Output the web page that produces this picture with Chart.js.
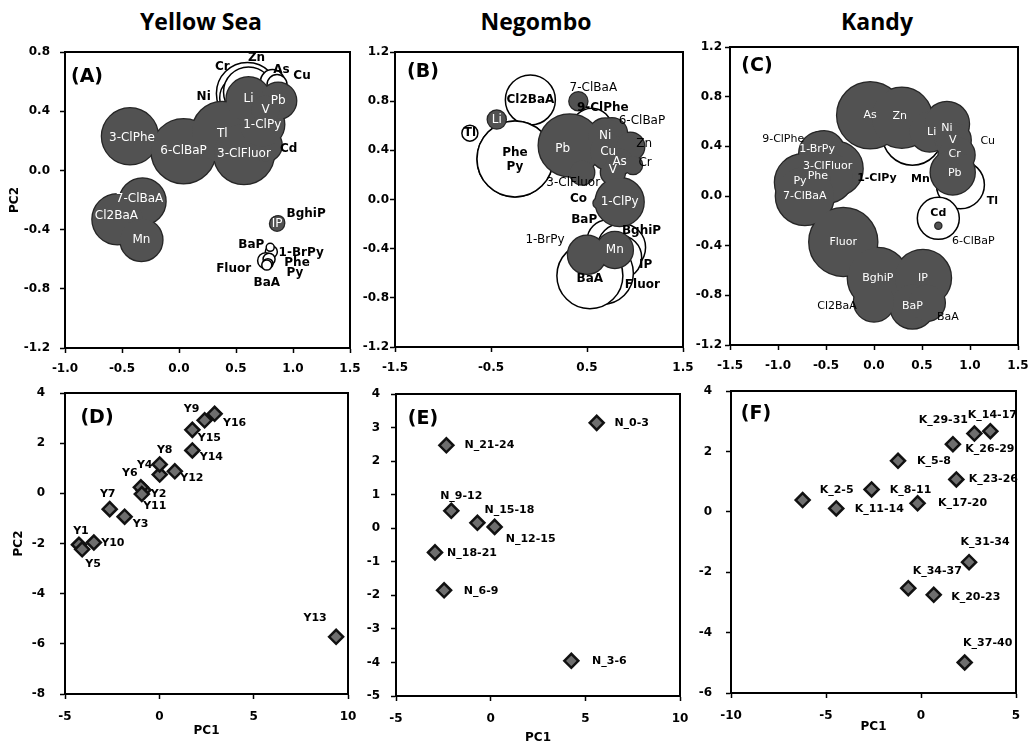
<!DOCTYPE html>
<html><head><meta charset="utf-8">
<script src="https://cdn.jsdelivr.net/npm/chart.js@4.4.1/dist/chart.umd.min.js"></script>
<style>
html,body{margin:0;padding:0;background:#fff;}
body{width:1030px;height:754px;position:relative;overflow:hidden;}
canvas{position:absolute;}
.ttl{position:absolute;top:5px;transform:translateX(-50%);font-family:'Open Sans',sans-serif;font-weight:bold;font-size:23px;white-space:nowrap;color:#000;}
</style></head><body>
<div class="ttl" style="left:201px">Yellow Sea</div>
<div class="ttl" style="left:536px">Negombo</div>
<div class="ttl" style="left:877px">Kandy</div>
<canvas id="cA" width="372" height="351" style="left:4px;top:27px"></canvas>
<canvas id="cB" width="360" height="350" style="left:349px;top:27px"></canvas>
<canvas id="cC" width="360" height="353" style="left:684px;top:22px"></canvas>
<canvas id="cD" width="366" height="374" style="left:8px;top:368px"></canvas>
<canvas id="cE" width="356" height="380" style="left:350px;top:369px"></canvas>
<canvas id="cF" width="357" height="372" style="left:685px;top:366px"></canvas>
<script>
// ===== DATA =====
// (A) Yellow Sea loadings
const A_names = ['3-ClPhe','6-ClBaP','Tl','3-ClFluor','Cd','1-ClPy','Li','Pb','V','7-ClBaA','Cl2BaA','Mn','IP','BghiP','Cr','Ni','Zn','As','Cu','BaP','1-BrPy','Fluor','Phe','Py','BaA'];
const A_pc1 = [-0.43,0.04,0.38,0.57,0.76,0.73,0.61,0.87,0.76,-0.32,-0.54,-0.33,0.86,0.87,0.60,0.55,0.61,0.82,0.86,0.81,0.80,0.76,0.79,0.78,0.77];
const A_pc2 = [0.23,0.13,0.26,0.11,0.17,0.31,0.48,0.47,0.41,-0.21,-0.33,-0.47,-0.36,-0.35,0.52,0.49,0.53,0.60,0.58,-0.55,-0.52,-0.61,-0.60,-0.63,-0.64];
const A_mag = [0.28,0.32,0.30,0.30,0.16,0.22,0.22,0.18,0.14,0.23,0.25,0.21,0.07,0.06,0.31,0.22,0.25,0.12,0.10,0.06,0.04,0.08,0.06,0.05,0.05];
const A_type = ['d','d','d','d','d','d','d','d','d','d','d','d','d','d','w','w','w','w','w','w','w','w','w','w','w'];
const A_xticks = [-1.0,-0.5,0.0,0.5,1.0,1.5];
const A_yticks = [-1.2,-0.8,-0.4,0.0,0.4,0.8];

// (B) Negombo loadings
const B_names = ['Li','7-ClBaA','Pb','6-ClBaP','Ni','Cu','Zn','As','Cr','V','3-ClFluor','1-ClPy','Co','Mn','1-BrPy','Tl','Cl2BaA','Phe','Py','9-ClPhe','BaP','BghiP','IP','Fluor','BaA'];
const B_pc1 = [-0.44,0.41,0.32,0.76,0.69,0.72,0.95,0.84,0.98,0.77,0.45,0.84,0.62,0.79,0.50,-0.72,-0.09,-0.25,-0.25,0.55,0.71,0.86,0.84,0.66,0.53];
const B_pc2 = [0.65,0.80,0.44,0.54,0.52,0.39,0.43,0.31,0.28,0.22,0.22,-0.02,-0.03,-0.41,-0.45,0.54,0.81,0.33,0.33,0.58,-0.33,-0.39,-0.47,-0.60,-0.62];
const B_mag = [0.09,0.09,0.31,0.15,0.17,0.18,0.14,0.13,0.09,0.12,0.12,0.24,0.05,0.18,0.19,0.08,0.25,0.38,0.38,0.20,0.20,0.24,0.22,0.31,0.33];
const B_type = ['d','d','d','d','d','d','d','d','d','d','d','d','d','d','d','w','w','w','w','w','w','w','w','w','w'];
const B_xticks = [-1.5,-0.5,0.5,1.5];
const B_yticks = [-1.2,-0.8,-0.4,0.0,0.4,0.8,1.2];

// (C) Kandy loadings
const C_names = ['As','Zn','Li','Ni','Cu','V','Cr','Pb','9-ClPhe','1-BrPy','3-ClFluor','Phe','Py','7-ClBaA','Fluor','BghiP','IP','BaP','Cl2BaA','BaA','6-ClBaP','Mn','1-ClPy','Tl','Cd'];
const C_pc1 = [-0.04,0.29,0.58,0.76,0.82,0.82,0.86,0.82,-0.55,-0.52,-0.40,-0.48,-0.74,-0.72,-0.32,0.04,0.51,0.40,0.00,0.55,0.67,0.40,0.03,0.90,0.67];
const C_pc2 = [0.65,0.63,0.52,0.58,0.45,0.44,0.33,0.19,0.34,0.36,0.22,0.15,0.11,0.00,-0.37,-0.66,-0.66,-0.89,-0.85,-0.86,-0.24,0.49,0.14,0.09,-0.18];
const C_mag = [0.33,0.30,0.20,0.22,0.18,0.16,0.18,0.22,0.22,0.20,0.27,0.25,0.28,0.29,0.34,0.30,0.28,0.22,0.20,0.18,0.03,0.30,0.00,0.24,0.21];
const C_type = ['d','d','d','d','d','d','d','d','d','d','d','d','d','d','d','d','d','d','d','d','d','w','w','w','w'];
const C_xticks = [-1.5,-1.0,-0.5,0.0,0.5,1.0,1.5];
const C_yticks = [-1.2,-0.8,-0.4,0.0,0.4,0.8,1.2];

// (D) Yellow Sea scores
const D_names = ['Y1','Y2','Y3','Y4','Y5','Y6','Y7','Y8','Y9','Y10','Y11','Y12','Y13','Y14','Y15','Y16'];
const D_pc1 = [-4.26,-0.84,-1.84,0.02,-4.09,-0.98,-2.63,0.02,2.40,-3.47,-0.93,0.82,9.37,1.75,1.75,2.93];
const D_pc2 = [-2.05,0.13,-0.93,0.75,-2.23,0.24,-0.63,1.15,2.91,-1.96,-0.03,0.88,-5.72,1.71,2.53,3.17];
const D_xticks = [-5,0,5,10];
const D_yticks = [-8,-6,-4,-2,0,2,4];

// (E) Negombo scores
const E_names = ['N_0-3','N_3-6','N_6-9','N_9-12','N_12-15','N_15-18','N_18-21','N_21-24'];
const E_pc1 = [5.60,4.26,-2.46,-2.08,0.21,-0.70,-2.94,-2.34];
const E_pc2 = [3.14,-3.95,-1.85,0.52,0.04,0.16,-0.72,2.47];
const E_xticks = [-5,0,5,10];
const E_yticks = [-5,-4,-3,-2,-1,0,1,2,3,4];

// (F) Kandy scores
const F_names = ['K_2-5','K_5-8','K_8-11','K_11-14','K_14-17','K_17-20','K_20-23','K_23-26','K_26-29','K_29-31','K_31-34','K_34-37','K_37-40'];
const F_pc1 = [-6.23,-1.21,-2.60,-4.46,3.65,-0.18,0.67,1.86,1.68,2.81,2.53,-0.67,2.30];
const F_pc2 = [0.39,1.69,0.74,0.11,2.67,0.28,-2.75,1.07,2.24,2.59,-1.67,-2.53,-4.99];
const F_xticks = [-10,-5,0,5];
const F_yticks = [-6,-4,-2,0,2,4];

// ===== LAYOUT / STYLE =====
const FAM = "'DejaVu Sans', sans-serif";
const R_SCALE = 100; // bubble radius px per magnitude unit

const A_lab = {'3-ClPhe':[2,2,'w'],'7-ClBaA':[-3,-3,'w'],'Cl2BaA':[-1,-3,'w'],'Tl':[0,2,'w'],'Cd':[23,4,'b'],'BghiP':[28,-8,'b'],'IP':[0,0,'w'],
  'Cr':[-25,-27,'b'],'Ni':[-38,-1,'b'],'Zn':[8,-34,'b'],'As':[9,-12,'b'],'Cu':[25,-9,'b'],'BaP':[-20,-7,'b'],'1-BrPy':[31,6,'b'],
  'Fluor':[-32,8,'b'],'Phe':[28,4,'b'],'Py':[27,9,'b'],'BaA':[0,18,'b']};
const B_lab = {'7-ClBaA':[15,-13,'n'],'6-ClBaP':[30,-12,'n'],'Zn':[14,-3,'n'],'Cr':[12,-2,'n'],'3-ClFluor':[-9,10,'n'],'Co':[-20,-4,'b'],
  '1-BrPy':[-42,-15,'n'],'Pb':[-7,3,'w'],'V':[0,-3,'w'],'Phe':[0,-6,'b'],'Py':[0,8,'b'],'9-ClPhe':[11,-20,'b'],'BaP':[-23,-20,'b'],
  'BghiP':[20,-17,'b'],'IP':[26,8,'b'],'Fluor':[40,12,'b'],'BaA':[0,3,'b'],'Tl':[0,0,'b'],'Cl2BaA':[0,0,'b']};
const C_lab = {'Cu':[35,1,'n'],'9-ClPhe':[-38,-15,'n'],'Cl2BaA':[-37,5,'n'],'BaA':[21,14,'n'],'6-ClBaP':[35,15,'n'],'Mn':[8,44,'b'],
  '1-ClPy':[0,0,'b'],'Tl':[32,16,'b'],'Cd':[0,-5,'b'],'1-BrPy':[-7,-2,'w'],'3-ClFluor':[-8,-3,'w'],'Phe':[-10,-1,'w'],'Py':[-3,-1,'w'],
  'Li':[2,1,'w'],'Ni':[0,4,'w'],'Zn':[-2,-2,'w'],'Cr':[-2,-1,'w'],'Pb':[2,1,'w'],'V':[0,-1,'w']};
const D_lab = {'Y1':[2,-14],'Y5':[11,15],'Y10':[19,1],'Y7':[-2,-15],'Y3':[16,7],'Y6':[-11,-14],'Y2':[15,4],'Y11':[13,12],'Y4':[-15,-9],
  'Y8':[5,-14],'Y12':[17,7],'Y14':[19,7],'Y15':[17,8],'Y9':[-13,-11],'Y16':[20,9],'Y13':[-21,-19]};
const E_lab = {'N_0-3':[35,0],'N_3-6':[38,0],'N_6-9':[37,1],'N_9-12':[10,-15],'N_12-15':[36,12],'N_15-18':[32,-13],'N_18-21':[37,1],'N_21-24':[43,0]};
const F_lab = {'K_2-5':[34,-10],'K_5-8':[36,0],'K_8-11':[39,1],'K_11-14':[43,1],'K_14-17':[2,-16],'K_17-20':[45,0],'K_20-23':[42,2],
  'K_23-26':[37,0],'K_26-29':[37,5],'K_29-31':[-31,-13],'K_31-34':[16,-20],'K_34-37':[29,-17],'K_37-40':[23,-19]};

// ===== PLUGINS =====
const framePlugin = {
  id:'frame',
  afterDraw(chart){
    const {ctx, chartArea:a} = chart;
    ctx.save(); ctx.strokeStyle='#000'; ctx.lineWidth=2;
    ctx.strokeRect(a.left, a.top, a.right-a.left, a.bottom-a.top);
    ctx.restore();
  }
};
const letterPlugin = {
  id:'panelLetter',
  afterDraw(chart, args, o){
    if(!o || !o.text) return;
    const {ctx, chartArea:a} = chart;
    ctx.save(); ctx.font = "bold 19px " + FAM; ctx.fillStyle='#000';
    ctx.textAlign='center'; ctx.textBaseline='middle';
    ctx.fillText(o.text, a.left+o.dx, a.top+o.dy);
    ctx.restore();
  }
};
const labelPlugin = {
  id:'ptLabels',
  afterDatasetsDraw(chart, args, o){
    const ctx = chart.ctx;
    const offs = (o && o.offsets) || {};
    const size = (o && o.size) || 11;
    ctx.save(); ctx.textAlign='center'; ctx.textBaseline='middle';
    chart.data.datasets.forEach((ds, di)=>{
      if(!ds.labelNames) return;
      const meta = chart.getDatasetMeta(di);
      meta.data.forEach((el, i)=>{
        const nm = ds.labelNames[i];
        const off = offs[nm] || [0,0];
        let st = off[2];
        if(!st) st = (ds.dark && off[0]===0 && off[1]===0) ? 'w' : 'b';
        ctx.fillStyle = st==='w' ? '#fff' : '#000';
        ctx.font = (st==='b' ? 'bold ' : '') + size + 'px ' + FAM;
        ctx.fillText(nm, el.x+off[0], el.y+off[1]);
      });
    });
    ctx.restore();
  }
};
Chart.register(framePlugin, letterPlugin, labelPlugin);

// ===== BUILDERS =====
function fmtTick(v, dec){ return dec ? Number(v).toFixed(dec) : String(Math.round(v)); }

function axis(ticksArr, dec, pad, fitKey, fitVal, title){
  return {
    type:'linear', min:ticksArr[0], max:ticksArr[ticksArr.length-1],
    afterBuildTicks: s => { s.ticks = ticksArr.map(v=>({value:v})); },
    ticks:{ callback: v => fmtTick(v, dec), font:{family:FAM, size:12, weight:'bold'}, color:'#000', padding:pad, autoSkip:false, maxRotation:0, minRotation:0 },
    grid:{ display:true, drawOnChartArea:false, drawTicks:true, tickLength:5, color:'#000', tickWidth:1.5 },
    border:{ display:true, color:'#000', width:2 },
    title: title ? {display:true, text:title, color:'#000', font:{family:FAM, size:12, weight:'bold'}, padding:{top:4,bottom:4}} : {display:false},
    afterFit: s => { s[fitKey] = fitVal; }
  };
}

function loadingDatasets(names, pc1, pc2, mag, type){
  const pick = t => { const d=[], n=[]; names.forEach((nm,i)=>{ if(type[i]===t){ d.push({x:pc1[i], y:pc2[i], r:mag[i]*R_SCALE}); n.push(nm);} }); return {d,n}; };
  const dk = pick('d'), wh = pick('w');
  return [
    {label:'open', data:wh.d, labelNames:wh.n, backgroundColor:'#fff', borderColor:'#000', borderWidth:1.5, order:3},
    {label:'filled-rim', data:dk.d, backgroundColor:'#262626', borderColor:'#262626', borderWidth:2.5, order:2},
    {label:'filled', data:dk.d, labelNames:dk.n, dark:true, backgroundColor:'#525252', borderColor:'#525252', borderWidth:0, order:1}
  ];
}
function scoreDatasets(names, pc1, pc2){
  return [{label:'scores', data: pc1.map((v,i)=>({x:v, y:pc2[i]})), labelNames:names,
    pointStyle:'rectRot', pointRadius:7, pointHoverRadius:7, backgroundColor:'#6e6e6e', borderColor:'#111', borderWidth:2.5, showLine:false}];
}

const PAD_TOP = 25, PAD_RIGHT = 26;
function makeChart(id, type, datasets, p){
  new Chart(document.getElementById(id), {
    type: type,
    data: {datasets: datasets},
    options: {
      responsive:false, animation:false, events:[],
      layout:{ autoPadding:false, padding:{top:PAD_TOP, right:PAD_RIGHT, left:0, bottom:0} },
      scales:{
        x: axis(p.xt, p.dec, p.xpad, 'height', p.xh, p.xtitle),
        y: axis(p.yt, p.dec, p.ypad, 'width', p.yw, p.ytitle)
      },
      plugins:{
        legend:{display:false}, tooltip:{enabled:false},
        panelLetter:{text:p.letter, dx:p.ldx, dy:p.ldy},
        ptLabels:{offsets:p.lab, size:p.lsize}
      }
    }
  });
}

makeChart('cA','bubble', loadingDatasets(A_names,A_pc1,A_pc2,A_mag,A_type),
  {xt:A_xticks, yt:A_yticks, dec:1, xh:30, yw:61, xpad:9, ypad:10, ytitle:'PC2', xtitle:null, letter:'(A)', ldx:22, ldy:25, lab:A_lab, lsize:12});
makeChart('cB','bubble', loadingDatasets(B_names,B_pc1,B_pc2,B_mag,B_type),
  {xt:B_xticks, yt:B_yticks, dec:1, xh:30, yw:46, xpad:9, ypad:1, ytitle:null, xtitle:null, letter:'(B)', ldx:28, ldy:20, lab:B_lab, lsize:12});
makeChart('cC','bubble', loadingDatasets(C_names,C_pc1,C_pc2,C_mag,C_type),
  {xt:C_xticks, yt:C_yticks, dec:1, xh:30, yw:46, xpad:9, ypad:3, ytitle:null, xtitle:null, letter:'(C)', ldx:27, ldy:19, lab:C_lab, lsize:11});
makeChart('cD','scatter', scoreDatasets(D_names,D_pc1,D_pc2),
  {xt:D_xticks, yt:D_yticks, dec:0, xh:48, yw:57, xpad:11, ypad:15, ytitle:'PC2', xtitle:'PC1', letter:'(D)', ldx:32, ldy:25, lab:D_lab, lsize:11});
makeChart('cE','scatter', scoreDatasets(E_names,E_pc1,E_pc2),
  {xt:E_xticks, yt:E_yticks, dec:0, xh:53, yw:46, xpad:11, ypad:11, ytitle:null, xtitle:'PC1', letter:'(E)', ldx:27, ldy:25, lab:E_lab, lsize:11});
makeChart('cF','scatter', scoreDatasets(F_names,F_pc1,F_pc2),
  {xt:F_xticks, yt:F_yticks, dec:0, xh:45, yw:46, xpad:11, ypad:14, ytitle:null, xtitle:'PC1', letter:'(F)', ldx:25, ldy:23, lab:F_lab, lsize:11});
</script>
</body></html>
